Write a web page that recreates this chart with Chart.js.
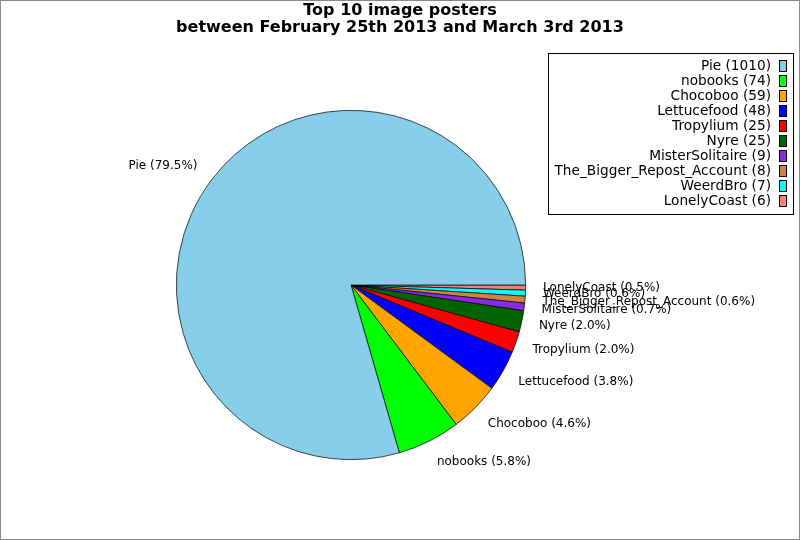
<!DOCTYPE html>
<html>
<head>
<meta charset="utf-8">
<script src="https://cdn.jsdelivr.net/npm/chart.js@4"></script>
<style>
  html, body { margin: 0; padding: 0; background: #fff; }
  #wrap { width: 800px; height: 540px; }
</style>
</head>
<body>
<div id="wrap"><canvas id="pieChart" width="800" height="540"></canvas></div>
<script>
const posters = ['Pie', 'nobooks', 'Chocoboo', 'Lettucefood', 'Tropylium', 'Nyre',
  'MisterSolitaire', 'The_Bigger_Repost_Account', 'WeerdBro', 'LonelyCoast'];
const posts = [1010, 74, 59, 48, 25, 25, 9, 8, 7, 6];
const sliceColors = ['#87ceeb', '#00ff00', '#ffa500', '#0000ff', '#ff0000', '#006400',
  '#8a2be2', '#cd853f', '#00ffff', '#fa8072'];
const titleLines = ['Top 10 image posters', 'between February 25th 2013 and March 3rd 2013'];

const total = posts.reduce((a, b) => a + b, 0);

// chart.js goes clockwise, the original goes counter-clockwise from 3 o'clock,
// so feed it reversed and start at 90deg
const revNames = [...posters].reverse();
const revPosts = [...posts].reverse();
const revColors = [...sliceColors].reverse();

const FONT = '"DejaVu Sans", Verdana, sans-serif';

const decorations = {
  id: 'decorations',
  afterDatasetsDraw(chart) {
    const ctx = chart.ctx;
    const meta = chart.getDatasetMeta(0);

    // slice labels, ~1.1 x radius out
    ctx.save();
    ctx.font = '12px ' + FONT;
    ctx.fillStyle = '#000';
    ctx.textBaseline = 'middle';
    meta.data.forEach((arc, i) => {
      const mid = (arc.startAngle + arc.endAngle) / 2;
      const x = arc.x + Math.cos(mid) * arc.outerRadius * 1.1;
      const y = arc.y + Math.sin(mid) * arc.outerRadius * 1.13;
      ctx.textAlign = Math.cos(mid) >= 0 ? 'left' : 'right';
      const pct = (revPosts[i] / total * 100).toFixed(1);
      ctx.fillText(`${revNames[i]} (${pct}%)`, x, y);
    });
    ctx.restore();
  },
  afterDraw(chart) {
    const ctx = chart.ctx;
    ctx.save();

    // title
    ctx.font = 'bold 16px ' + FONT;
    ctx.fillStyle = '#000';
    ctx.textAlign = 'center';
    ctx.textBaseline = 'middle';
    ctx.fillText(titleLines[0], 400, 11);
    ctx.fillText(titleLines[1], 400, 28);

    // legend box
    ctx.fillStyle = '#fff';
    ctx.fillRect(548.5, 53.5, 245, 161);
    ctx.strokeStyle = '#000';
    ctx.lineWidth = 1;
    ctx.strokeRect(548.5, 53.5, 245, 161);
    ctx.font = '13.7px ' + FONT;
    ctx.textAlign = 'right';
    posters.forEach((name, i) => {
      const y = 66 + i * 15;
      ctx.fillStyle = '#000';
      ctx.fillText(`${name} (${posts[i]})`, 771, y);
      ctx.fillStyle = sliceColors[i];
      ctx.fillRect(779.5, y - 5.5, 7, 11);
      ctx.strokeRect(779.5, y - 5.5, 7, 11);
    });

    // figure frame
    ctx.strokeStyle = '#888';
    ctx.strokeRect(0.5, 0.5, 799, 539);
    ctx.restore();
  }
};

new Chart(document.getElementById('pieChart'), {
  type: 'pie',
  data: {
    labels: revNames,
    datasets: [{
      data: revPosts,
      backgroundColor: revColors,
      borderColor: '#000',
      borderWidth: 0.7
    }]
  },
  options: {
    responsive: false,
    animation: false,
    rotation: 90,
    layout: { padding: { left: 176, right: 274, top: 110, bottom: 80 } },
    plugins: {
      legend: { display: false },
      title: { display: false },
      tooltip: { enabled: false }
    }
  },
  plugins: [decorations]
});
</script>
</body>
</html>
